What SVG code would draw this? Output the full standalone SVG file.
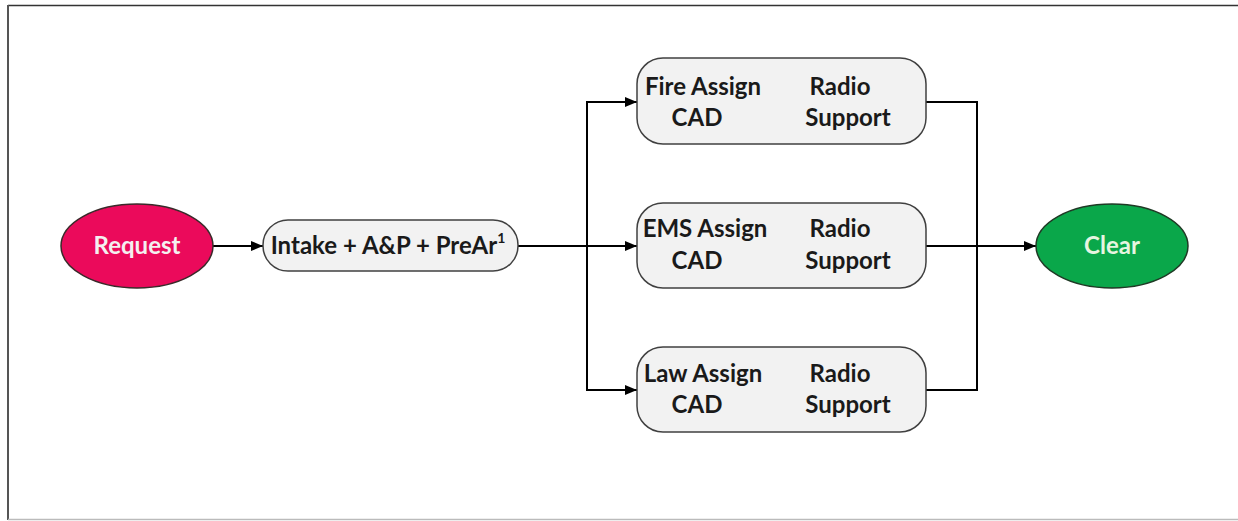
<svg xmlns="http://www.w3.org/2000/svg" width="1238" height="521" viewBox="0 0 1238 521">
<defs>
<style>
.t{font-family:Lato,"Liberation Sans",sans-serif;font-weight:bold;font-size:24px;fill:#1a1a1a;text-anchor:middle}
.w{fill:#f4f0f0}
.box{fill:#f2f2f2;stroke:#404040;stroke-width:1.5}
.con{fill:none;stroke:#000;stroke-width:2}
</style>
<marker id="ah" viewBox="0 0 12 10" refX="12" refY="5" markerWidth="12" markerHeight="10" markerUnits="userSpaceOnUse" orient="auto">
<path d="M0,0 L12,5 L0,10 Z" fill="#000"/>
</marker>
</defs>
<rect width="1238" height="521" fill="#fff"/>
<g id="frame">
<line x1="8" y1="5.5" x2="1238" y2="5.5" stroke="#333" stroke-width="1.5"/>
<line x1="8" y1="5" x2="8" y2="520" stroke="#555" stroke-width="2"/>
<line x1="8" y1="519.5" x2="1238" y2="519.5" stroke="#bbb" stroke-width="1.5"/>
</g>
<g id="connectors">
<line class="con" x1="213" y1="246" x2="263" y2="246" marker-end="url(#ah)"/>
<line class="con" x1="518" y1="246" x2="637" y2="246" marker-end="url(#ah)"/>
<polyline class="con" points="587,246 587,102 637,102" marker-end="url(#ah)"/>
<polyline class="con" points="587,246 587,390 637,390" marker-end="url(#ah)"/>
<polyline class="con" points="926,102 977,102 977,390 926,390"/>
<line class="con" x1="926" y1="246" x2="1036" y2="246" marker-end="url(#ah)"/>
</g>
<g id="request">
<ellipse cx="137" cy="246" rx="76" ry="42" fill="#eb0a5b" stroke="#3a2a2a" stroke-width="1.5"/>
<text class="t w" x="137" y="254">Request</text>
</g>
<g id="intake">
<rect class="box" x="263" y="220" width="255" height="51" rx="25" ry="25"/>
<text class="t" x="388" y="254">Intake + A&amp;P + PreAr<tspan font-size="14" dy="-11">1</tspan></text>
</g>
<g id="fire">
<rect class="box" x="637" y="58" width="289" height="86" rx="26" ry="26"/>
<text class="t" x="703" y="95">Fire Assign</text>
<text class="t" x="697" y="126">CAD</text>
<text class="t" x="840" y="95">Radio</text>
<text class="t" x="848" y="126">Support</text>
</g>
<g id="ems">
<rect class="box" x="637" y="203" width="289" height="85" rx="26" ry="26"/>
<text class="t" x="705" y="237">EMS Assign</text>
<text class="t" x="697" y="269">CAD</text>
<text class="t" x="840" y="237">Radio</text>
<text class="t" x="848" y="269">Support</text>
</g>
<g id="law">
<rect class="box" x="637" y="347" width="289" height="85" rx="26" ry="26"/>
<text class="t" x="703" y="382">Law Assign</text>
<text class="t" x="697" y="413">CAD</text>
<text class="t" x="840" y="382">Radio</text>
<text class="t" x="848" y="413">Support</text>
</g>
<g id="clear">
<ellipse cx="1112" cy="246" rx="76" ry="42" fill="#0aa74a" stroke="#1f3a25" stroke-width="1.5"/>
<text class="t" x="1112" y="254" style="fill:#e6f5e0">Clear</text>
</g>
</svg>
